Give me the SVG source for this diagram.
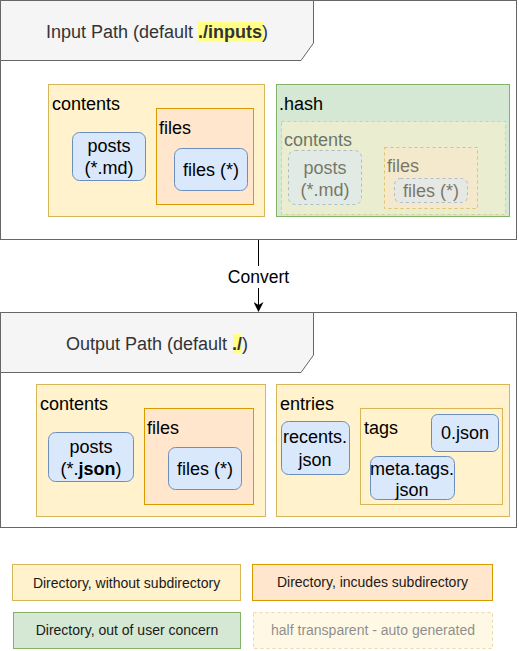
<svg xmlns="http://www.w3.org/2000/svg" width="519" height="651" viewBox="0 0 519 651">
<defs>
<style>
text{font-family:"Liberation Sans",Arial,sans-serif;font-size:18px;fill:#000}
.hdr{fill:#333}
.leg{font-size:14px;fill:#1a1a1a}
.mid{text-anchor:middle}
.outer{fill:#fff;stroke:#666;stroke-width:1}
.tab{fill:#f5f5f5;stroke:#666;stroke-width:1}
.y{fill:#fff2cc;stroke:#d6b656;stroke-width:1}
.o{fill:#ffe6cc;stroke:#d79b00;stroke-width:1}
.g{fill:#d5e8d4;stroke:#82b366;stroke-width:1}
.b{fill:#dae8fc;stroke:#6c8ebf;stroke-width:1}
.dash{stroke-dasharray:3 3}
.half{opacity:0.5}
.hl{fill:#ffff88}
</style>
<marker id="arr" viewBox="0 0 10 10" refX="9" refY="5" markerWidth="10" markerHeight="10" markerUnits="userSpaceOnUse" orient="auto">
<path d="M0,0 L10,5 L0,10 L3,5 Z" fill="#000"/>
</marker>
</defs>

<g id="input-path">
<rect class="outer" x="0.5" y="0.5" width="516" height="239"/>
<path class="tab" d="M0.5,0.5 H313.5 V43 L301,60.5 H0.5 Z"/>
<rect class="hl" x="198" y="22" width="65" height="20"/>
<text class="hdr mid" x="157" y="38">Input Path (default <tspan font-weight="bold">./inputs</tspan>)</text>
</g>

<g id="in-contents">
<rect class="y" x="48.5" y="84.5" width="216" height="132"/>
<text x="52" y="110">contents</text>
</g>
<g id="in-posts">
<rect class="b" x="72.5" y="132.5" width="73" height="48" rx="7"/>
<text class="mid" x="109" y="152">posts</text>
<text class="mid" x="109" y="174">(*.md)</text>
</g>
<g id="in-files">
<rect class="o" x="156.5" y="108.5" width="97" height="96"/>
<text x="159" y="134">files</text>
</g>
<g id="in-files-star">
<rect class="b" x="174.5" y="148.5" width="73" height="42" rx="7"/>
<text class="mid" x="211" y="176">files (*)</text>
</g>

<g id="hash">
<rect class="g" x="276.5" y="84.5" width="233" height="132"/>
<text x="279" y="110">.hash</text>
</g>
<g id="hash-contents" class="half">
<rect class="y dash" x="281.5" y="121.5" width="224" height="93"/>
<text x="284" y="146">contents</text>
</g>
<g id="hash-posts" class="half">
<rect class="b dash" x="288.5" y="150.5" width="73" height="54" rx="7"/>
<text class="mid" x="325" y="174">posts</text>
<text class="mid" x="325" y="196">(*.md)</text>
</g>
<g id="hash-files" class="half">
<rect class="o dash" x="384.5" y="147.5" width="93" height="61"/>
<text x="387" y="172">files</text>
</g>
<g id="hash-files-star" class="half">
<rect class="b dash" x="394.5" y="178.5" width="73" height="24" rx="6"/>
<text class="mid" x="431" y="197">files (*)</text>
</g>

<g id="connectors">
<line x1="258.5" y1="240" x2="258.5" y2="266" stroke="#000" stroke-width="1"/>
<line x1="258.5" y1="288" x2="258.5" y2="311" stroke="#000" stroke-width="1" marker-end="url(#arr)"/>
<text class="mid" x="258.5" y="283" style="font-size:17.5px">Convert</text>
</g>

<g id="output-path">
<rect class="outer" x="0.5" y="312.5" width="516" height="215"/>
<path class="tab" d="M0.5,312.5 H313.5 V355 L301,372.5 H0.5 Z"/>
<rect class="hl" x="233" y="334" width="8" height="20"/>
<text class="hdr mid" x="157" y="350">Output Path (default <tspan font-weight="bold">./</tspan>)</text>
</g>

<g id="out-contents">
<rect class="y" x="36.5" y="384.5" width="229" height="132"/>
<text x="40" y="410">contents</text>
</g>
<g id="out-posts">
<rect class="b" x="48.5" y="432.5" width="85" height="49" rx="7"/>
<text class="mid" x="91" y="453">posts</text>
<text class="mid" x="91" y="475">(*.<tspan font-weight="bold">json</tspan>)</text>
</g>
<g id="out-files">
<rect class="o" x="144.5" y="408.5" width="109" height="96"/>
<text x="147" y="434">files</text>
</g>
<g id="out-files-star">
<rect class="b" x="168.5" y="447.5" width="73" height="42" rx="7"/>
<text class="mid" x="205" y="475">files (*)</text>
</g>

<g id="entries">
<rect class="y" x="276.5" y="384.5" width="233" height="132"/>
<text x="280" y="410">entries</text>
</g>
<g id="recents">
<rect class="b" x="281.5" y="421.5" width="68" height="53" rx="7"/>
<text class="mid" x="315" y="443">recents.</text>
<text class="mid" x="315" y="466">json</text>
</g>
<g id="tags">
<rect class="y" x="360.5" y="408.5" width="142" height="96"/>
<text x="364" y="434">tags</text>
</g>
<g id="zero-json">
<rect class="b" x="431.5" y="414.5" width="67" height="37" rx="6"/>
<text class="mid" x="465" y="439">0.json</text>
</g>
<g id="meta-tags">
<rect class="b" x="370.5" y="456.5" width="84" height="43" rx="7"/>
<text class="mid" x="412" y="475">meta.tags.</text>
<text class="mid" x="412" y="496">json</text>
</g>

<g id="legend-yellow">
<rect class="y" x="12.5" y="564.5" width="228" height="36"/>
<text class="leg mid" x="126.5" y="588">Directory, without subdirectory</text>
</g>
<g id="legend-orange">
<rect class="o" x="252.5" y="564.5" width="240" height="36"/>
<text class="leg mid" x="372.5" y="587">Directory, incudes subdirectory</text>
</g>
<g id="legend-green">
<rect class="g" x="13.5" y="612.5" width="227" height="36"/>
<text class="leg mid" x="127" y="635">Directory, out of user concern</text>
</g>
<g id="legend-half" class="half">
<rect class="y dash" x="253.5" y="612.5" width="239" height="36"/>
<text class="leg mid" x="373" y="635">half transparent - auto generated</text>
</g>
</svg>
